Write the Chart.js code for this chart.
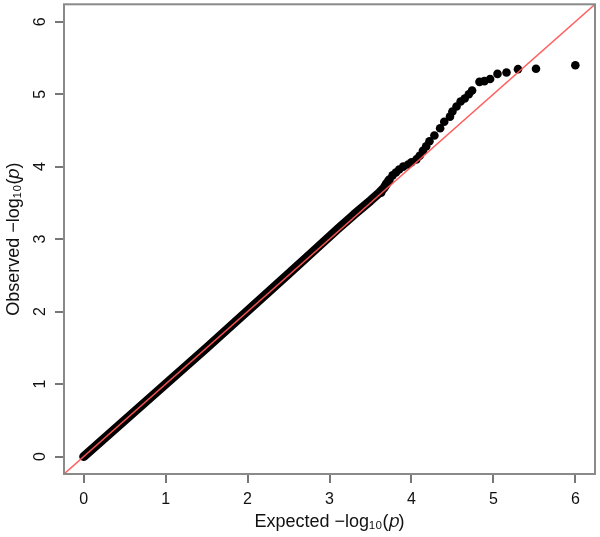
<!DOCTYPE html>
<html>
<head>
<meta charset="utf-8">
<script src="https://cdn.jsdelivr.net/npm/chart.js@4.4.1/dist/chart.umd.min.js"></script>
<style>
  body { margin: 0; background: #fff; }
</style>
</head>
<body>
<canvas id="qq" width="600" height="537"></canvas>
<script>
// main band of points along the diagonal (expected vs observed -log10 p)
const expectedBand = [0, 0.5, 1, 1.5, 2, 2.5, 2.8, 3.1, 3.3, 3.5, 3.6, 3.66, 3.73];
const observedBand = [0, 0.5, 1, 1.5, 2.01, 2.52, 2.83, 3.14, 3.34, 3.53, 3.63, 3.70, 3.82];

// upper tail, where the points leave the line
const expectedTail = [3.63, 3.69, 3.77, 3.81, 3.85, 3.90, 3.96, 4.00, 4.06, 4.10, 4.14, 4.18, 4.22, 4.28, 4.35, 4.40,
  4.47, 4.50, 4.55, 4.60, 4.65, 4.70, 4.74, 4.83, 4.89, 4.96, 5.05, 5.16, 5.30, 5.52, 6.0];
const observedTail = [3.64, 3.76, 3.88, 3.92, 3.96, 4.00, 4.03, 4.06, 4.10, 4.15, 4.22, 4.28, 4.35, 4.43, 4.53, 4.62,
  4.69, 4.76, 4.83, 4.90, 4.94, 5.00, 5.05, 5.17, 5.18, 5.21, 5.28, 5.30, 5.345, 5.35, 5.40];

// y = x reference line
const diagonal = [-0.24, 6.24];

const axisMin = -0.24;
const axisMax = 6.24;

const toXY = (xs, ys) => xs.map((v, i) => ({ x: v, y: ys[i] }));

const family = "'Liberation Sans', Arial, sans-serif";
const tickFont = { family: family, size: 16 };
const titleFont = { family: family, size: 18 };

// box around the plot region, like R's box()
const boxPlugin = {
  id: "box",
  afterDraw(chart) {
    const { ctx, chartArea: a } = chart;
    ctx.save();
    ctx.strokeStyle = "#8a8a8a";
    ctx.lineWidth = 2;
    ctx.strokeRect(a.left, a.top, a.right - a.left, a.bottom - a.top);
    ctx.restore();
  }
};

const ctx = document.getElementById("qq").getContext("2d");
const qq = new Chart(ctx, {
  type: "scatter",
  data: {
    datasets: [
      {
        label: "y = x",
        data: toXY(diagonal, diagonal),
        showLine: true,
        borderColor: "rgba(255,85,85,0.95)",
        borderWidth: 1.5,
        pointRadius: 0,
        order: 0
      },
      {
        label: "band",
        data: toXY(expectedBand, observedBand),
        showLine: true,
        borderColor: "#000",
        borderWidth: 9,
        borderCapStyle: "round",
        borderJoinStyle: "round",
        pointRadius: 0,
        order: 1
      },
      {
        label: "tail",
        data: toXY(expectedTail, observedTail),
        backgroundColor: "#000",
        borderColor: "#000",
        borderWidth: 0,
        pointRadius: 4.3,
        order: 2
      }
    ]
  },
  options: {
    responsive: false,
    animation: false,
    layout: { padding: { top: 3, right: 5, left: 0, bottom: 0 } },
    plugins: {
      legend: { display: false },
      tooltip: { enabled: false }
    },
    scales: {
      x: {
        type: "linear",
        min: axisMin,
        max: axisMax,
        border: { display: false },
        grid: { drawOnChartArea: false, drawTicks: true, tickLength: 9, color: "#777", lineWidth: 2 },
        ticks: { stepSize: 1, includeBounds: false, color: "#111", font: tickFont, padding: 7, maxRotation: 0 },
        title: {
          display: true,
          text: "Expected \u2212log\u2081\u2080(\uD835\uDC5D)",
          color: "#111",
          font: titleFont,
          padding: { top: 0, bottom: 4 }
        },
        afterFit(scale) {
          scale.height = 63;
          scale.paddingLeft = 0;
          scale.paddingRight = 0;
        }
      },
      y: {
        type: "linear",
        min: axisMin,
        max: axisMax,
        border: { display: false },
        grid: { drawOnChartArea: false, drawTicks: true, tickLength: 9, color: "#777", lineWidth: 2 },
        ticks: { stepSize: 1, includeBounds: false, color: "#111", font: tickFont, padding: 10,
          minRotation: 90, maxRotation: 90, crossAlign: "center" },
        title: {
          display: true,
          text: "Observed \u2212log\u2081\u2080(\uD835\uDC5D)",
          color: "#111",
          font: titleFont,
          padding: { top: 3, bottom: 0 }
        },
        afterFit(scale) {
          scale.width = 64;
          scale.paddingTop = 0;
          scale.paddingBottom = 0;
        }
      }
    }
  },
  plugins: [boxPlugin]
});
</script>
</body>
</html>
